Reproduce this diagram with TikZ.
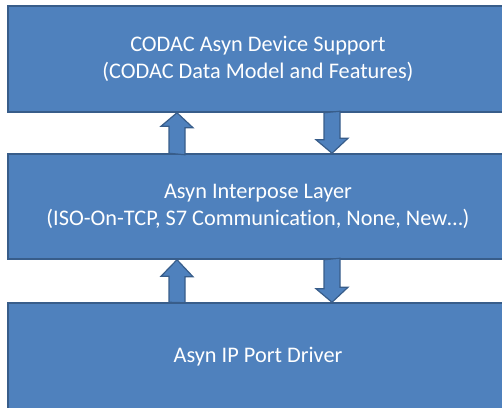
\documentclass[tikz,border=0pt]{standalone}
\usepackage{fontspec}
\setmainfont{Carlito}[Ligatures=NoCommon]
\usetikzlibrary{calc}
\definecolor{boxfill}{HTML}{4F81BD}
\definecolor{boxline}{HTML}{385D8A}
\tikzset{
  layerbox/.style={draw=boxline, fill=boxfill, line width=1.5pt, minimum width=500pt,
    text=white, align=center, inner sep=0pt,
    font=\fontsize{22.3}{26.5}\selectfont},
  blockarrow/.style={draw=boxline, fill=boxfill, line width=1.2pt, line join=miter}
}
\begin{document}
\begin{tikzpicture}[x=1pt,y=-1pt]
\useasboundingbox (0,0) rectangle (502,407);
\clip (0,0) rectangle (502,407);
\node[layerbox, minimum height=106pt] (b1) at (258,59) {CODAC Asyn Device Support\\(CODAC Data Model and Features)};
\node[layerbox, minimum height=105pt] (b2) at (258,206.5) {Asyn Interpose Layer\\(ISO-On-TCP, S7 Communication, None, New\ldots)};
\node[layerbox, minimum height=108pt] (b3) at (258,357) {Asyn IP Port Driver};
% up arrow b2 -> b1
\coordinate (u1) at ($(b2.north)+(-81,0)$);
\draw[blockarrow] (u1) ++(-8,0) -- ++(0,-27) -- ++(-8,0) -- ($(b1.south)+(-81,0)$) -- ++(16,15) -- ++(-8,0) -- ++(0,27) -- cycle;
% down arrow b1 -> b2
\coordinate (d1) at ($(b2.north)+(74,0)$);
\draw[blockarrow] ($(b1.south)+(66,0)$) -- ++(0,27) -- ++(-8,0) -- (d1) -- ++(16,-15) -- ++(-8,0) -- ++(0,-27) -- cycle;
% up arrow b3 -> b2
\coordinate (u2) at ($(b3.north)+(-81,0)$);
\draw[blockarrow] (u2) ++(-8,0) -- ++(0,-26) -- ++(-8,0) -- ($(b2.south)+(-81,0)$) -- ++(16,17) -- ++(-8,0) -- ++(0,26) -- cycle;
% down arrow b2 -> b3
\coordinate (d2) at ($(b3.north)+(74,0)$);
\draw[blockarrow] ($(b2.south)+(66,0)$) -- ++(0,29) -- ++(-8,0) -- (d2) -- ++(16,-15) -- ++(-8,0) -- ++(0,-29) -- cycle;
\end{tikzpicture}
\end{document}
